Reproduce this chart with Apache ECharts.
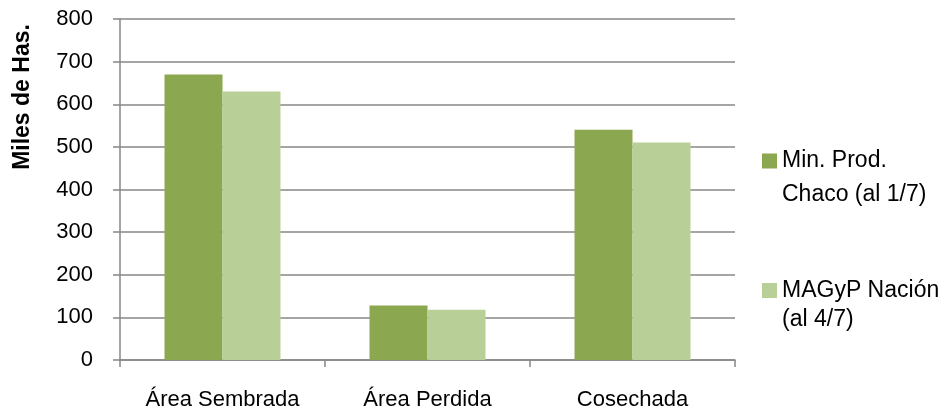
<!DOCTYPE html>
<html>
<head>
<meta charset="utf-8">
<script src="https://cdn.jsdelivr.net/npm/echarts@6/dist/echarts.min.js"></script>
<style>html,body{margin:0;padding:0;background:#fff}#c{width:949px;height:418px}</style>
</head>
<body>
<div id="c"></div>
<script>
const categories = ['Área Sembrada', 'Área Perdida', 'Cosechada'];
const seriesNames = ['Min. Prod.\nChaco (al 1/7)', 'MAGyP Nación\n(al 4/7)'];
const chacoValues = [670, 128, 540];
const nacionValues = [630, 118, 510];
const yTicks = [0, 100, 200, 300, 400, 500, 600, 700, 800];
const yTitle = 'Miles de Has.';

const FONT = '"Liberation Sans", Arial, sans-serif';
const GRAY = '#878787';
const DARK = '#8BA74F';
const LIGHT = '#B9CF98';

const chart = echarts.init(document.getElementById('c'), null, {renderer: 'canvas'});
chart.setOption({
  animation: false,
  backgroundColor: '#ffffff',
  grid: {left: 120, right: 214, top: 19, bottom: 58, containLabel: false},
  xAxis: {
    type: 'category',
    data: categories,
    axisLine: {lineStyle: {color: GRAY, width: 1.5}},
    axisTick: {show: true, interval: 0, length: 7, lineStyle: {color: GRAY, width: 1.5}},
    axisLabel: {interval: 0, hideOverlap: false, fontFamily: FONT, fontSize: 22, color: '#000', margin: 29}
  },
  yAxis: {
    type: 'value',
    min: yTicks[0],
    max: yTicks[yTicks.length - 1],
    interval: 100,
    axisLine: {show: true, lineStyle: {color: GRAY, width: 1.5}},
    axisTick: {show: true, length: 7, lineStyle: {color: GRAY, width: 1.5}},
    splitLine: {show: true, lineStyle: {color: GRAY, width: 1.5}},
    axisLabel: {fontFamily: FONT, fontSize: 22, color: '#000', margin: 27}
  },
  legend: [
    {
      data: [seriesNames[0]],
      orient: 'vertical',
      left: 762,
      top: 110,
      padding: 0,
      itemWidth: 15,
      itemHeight: 15,
      icon: 'rect',
      formatter: function (n) { return ' \n' + n; },
      textStyle: {fontFamily: FONT, fontSize: 23, color: '#000', lineHeight: 34}
    },
    {
      data: [seriesNames[1]],
      orient: 'vertical',
      left: 762,
      top: 247,
      padding: 0,
      itemWidth: 15,
      itemHeight: 15,
      icon: 'rect',
      formatter: function (n) { return ' \n' + n; },
      textStyle: {fontFamily: FONT, fontSize: 23, color: '#000', lineHeight: 29}
    }
  ],
  graphic: [{
    type: 'text',
    x: 23,
    y: 97,
    rotation: Math.PI / 2,
    style: {
      text: yTitle,
      fontFamily: FONT,
      fontSize: 23,
      fontWeight: 'bold',
      fill: '#000',
      align: 'center',
      verticalAlign: 'middle'
    }
  }],
  series: [
    {
      name: seriesNames[0],
      type: 'bar',
      data: chacoValues,
      barWidth: 58,
      barGap: '0%',
      itemStyle: {color: DARK}
    },
    {
      name: seriesNames[1],
      type: 'bar',
      data: nacionValues,
      barWidth: 58,
      barGap: '0%',
      itemStyle: {color: LIGHT}
    }
  ]
});
</script>
</body>
</html>
